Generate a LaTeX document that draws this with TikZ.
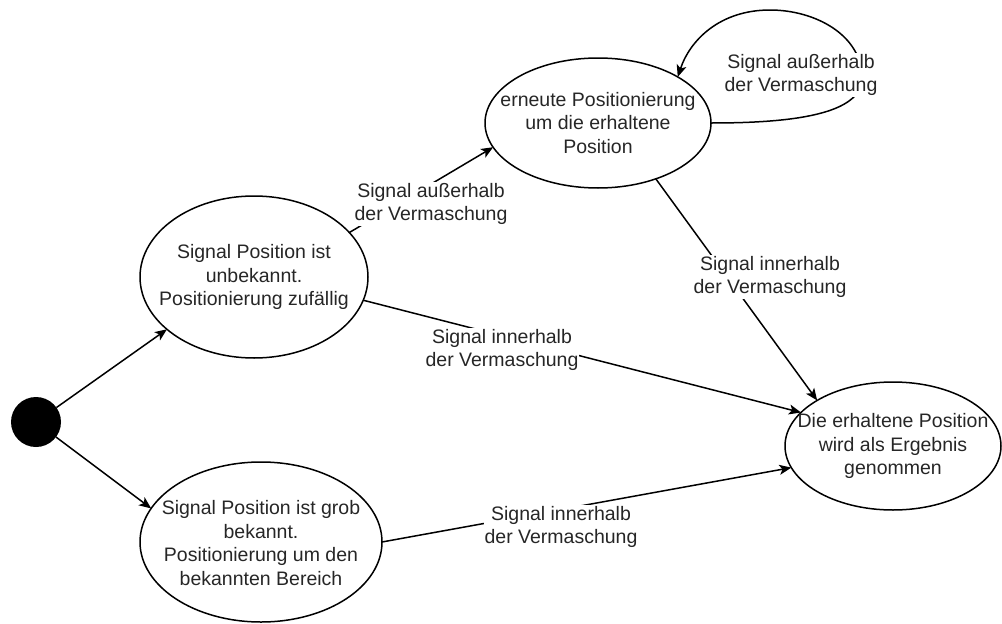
\documentclass[tikz,border=0pt]{standalone}
\usepackage{fontspec}
\setmainfont{Liberation Sans}
\usetikzlibrary{shapes.geometric,arrows.meta}
\begin{document}
\begin{tikzpicture}[x=1pt,y=-1pt,
  every node/.style={font=\fontsize{19.5}{23.5}\selectfont,text=black!85},
  state/.style={ellipse,draw,line width=1.5pt,inner sep=0pt,outer sep=0pt},
  stext/.style={align=center,inner sep=0pt},
  lbl/.style={fill=white,align=center,inner sep=1pt},
  edge/.style={line width=1.5pt,-{Stealth[length=12pt,width=10pt,inset=3pt]}},
]
\useasboundingbox (0,0) rectangle (1002,624);

% initial state
\node[circle,fill=black,minimum size=50pt,inner sep=0pt,outer sep=0pt] (start) at (36,422) {};

% states
\node[state,minimum width=228pt,minimum height=162pt] (a) at (254,277) {};
\node[state,minimum width=242pt,minimum height=160pt] (b) at (261,542) {};
\node[state,minimum width=226pt,minimum height=130pt] (c) at (598,123) {};
\node[state,minimum width=216pt,minimum height=128pt] (d) at (893,446) {};

\node[stext] (ta) at (a) {Signal Position ist\\unbekannt.\\Positionierung zufällig};
\node[stext] (tb) at (261,543) {Signal Position ist grob\\bekannt.\\Positionierung um den\\bekannten Bereich};
\node[stext] (tc) at (c) {erneute Positionierung\\um die erhaltene\\Position};
\node[stext] (td) at (d) {Die erhaltene Position\\wird als Ergebnis\\genommen};

% transitions
\draw[edge] (start) -- (a.211);
\draw[edge] (start) -- (b.163);
\draw[edge] (a.25) -- (c.193);
\draw[edge] (a.-12) -- (d.160);
\draw[edge] (c.-44) -- (d.149);
\draw[edge] (b.0) -- (d.192);
\draw[edge] (c.0) .. controls (790,123) and (862,115) .. (862,78)
  .. controls (862,35) and (815,10) .. (770,10)
  .. controls (720,10) and (690,40) .. (c.30);

% transition labels
\node[lbl] (l1) at (431,204) {Signal außerhalb\\der Vermaschung};
\node[lbl] (l2) at (502,350) {Signal innerhalb\\der Vermaschung};
\node[lbl] (l3) at (770,277) {Signal innerhalb\\der Vermaschung};
\node[lbl] (l4) at (561,527) {Signal innerhalb\\der Vermaschung};
\node[lbl] (l5) at (801,75) {Signal außerhalb\\der Vermaschung};
\end{tikzpicture}
\end{document}
